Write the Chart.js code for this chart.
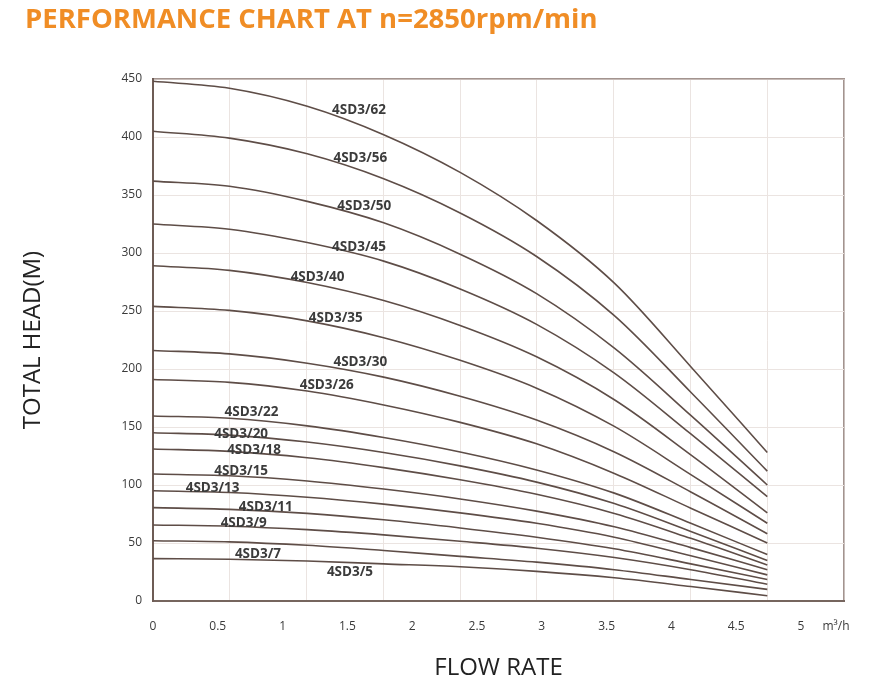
<!DOCTYPE html>
<html>
<head>
<meta charset="utf-8">
<script src="https://cdn.jsdelivr.net/npm/chart.js@4.4.1/dist/chart.umd.min.js"></script>
<style>
  html, body { margin: 0; padding: 0; background: #fff; }
</style>
</head>
<body>
<canvas id="perf_chart" width="875" height="693"></canvas>
<script>
// flow values (m3/h) at which the curves were read
const flowRate = [0, 0.59, 1.19, 1.78, 2.37, 2.96, 3.56, 4.15, 4.74];

// head (m) for each pump model
const head62 = [448, 442, 426.5, 402, 369.5, 328, 274, 202, 128];
const head56 = [405, 399, 385.5, 364, 334.5, 297, 246, 180, 112];
const head50 = [362, 357.5, 344.5, 326, 299, 265, 218, 160, 100];
const head45 = [325, 320.5, 309, 293, 269, 238.5, 196.5, 144, 90];
const head40 = [289, 285, 274.5, 259, 237.5, 210.5, 173.5, 126, 76];
const head35 = [254, 250.5, 241.5, 227, 207.5, 183.5, 150.5, 109, 67];
const head30 = [216, 213, 205, 193, 176.5, 156, 128.5, 94, 58];
const head26 = [191, 188.5, 181, 169, 154, 135.5, 110, 80, 50];
const head22 = [159.5, 157.5, 151, 141, 128.5, 113, 93, 67, 40];
const head20 = [145, 143, 137, 128, 116.5, 102.5, 84, 60, 35];
const head18 = [131, 129, 123.5, 115, 104.5, 92, 75.5, 54, 31];
const head15 = [109.5, 108, 103.5, 96.5, 88, 77.5, 64, 46, 27];
const head13 = [95, 93.5, 89.5, 83.5, 76, 67, 55, 39, 22.5];
const head11 = [80.5, 79, 75.5, 70, 63, 55, 45, 32, 18.5];
const head9 = [65.5, 64.5, 61.5, 57, 51.5, 45.5, 37.5, 27, 14.5];
const head7 = [52, 51, 48, 43.5, 38.5, 33.5, 27, 18.5, 10];
const head5 = [36.5, 36, 34.5, 32, 29.5, 25.5, 20, 12.5, 4.5];

const models = ['4SD3/62', '4SD3/56', '4SD3/50', '4SD3/45', '4SD3/40', '4SD3/35', '4SD3/30', '4SD3/26',
    '4SD3/22', '4SD3/20', '4SD3/18', '4SD3/15', '4SD3/13', '4SD3/11', '4SD3/9', '4SD3/7', '4SD3/5'];
const heads = [head62, head56, head50, head45, head40, head35, head30, head26,
    head22, head20, head18, head15, head13, head11, head9, head7, head5];

// where each model name sits (flow, head)
const labelFlow = [1.59, 1.60, 1.63, 1.59, 1.27, 1.41, 1.60, 1.34, 0.76, 0.68, 0.78, 0.68, 0.46, 0.87, 0.70, 0.81, 1.52];
const labelHead = [423, 382, 340, 305, 279, 244, 206, 186, 163, 144, 130, 112, 97, 81, 67, 40.5, 25];

// x axis tick labels
const xTickValues = [0, 0.5, 1, 1.5, 2, 2.5, 3, 3.5, 4, 4.5, 5, 5.27];
const xTickLabels = ['0', '0.5', '1', '1.5', '2', '2.5', '3', '3.5', '4', '4.5', '5', 'm³/h'];

const lineColor = '#5e4d47';
const gridColor = '#ebe4e1';
const frameColor = '#a3948f';

const datasets = heads.map((h, i) => ({
    label: models[i],
    data: flowRate.map((q, j) => ({ x: q, y: h[j] })),
    borderColor: lineColor,
    backgroundColor: lineColor,
    borderWidth: 1.6,
    pointRadius: 0,
    fill: false,
    cubicInterpolationMode: 'monotone',
    xAxisID: 'x',
    yAxisID: 'y'
}))

const curveLabels = {
    id: 'curveLabels',
    afterDatasetsDraw(chart) {
        const { ctx } = chart;
        const x = chart.scales.x;
        const y = chart.scales.y;
        ctx.save();
        ctx.font = 'bold 13.5px "Open Sans"';
        ctx.fillStyle = '#3b3b3b';
        ctx.textAlign = 'center';
        ctx.textBaseline = 'middle';
        models.forEach((m, i) => {
            ctx.fillText(m, x.getPixelForValue(labelFlow[i]), y.getPixelForValue(labelHead[i]));
        });
        ctx.restore();
    }
}

const config = {
    type: 'line',
    data: { datasets: datasets },
    options: {
        responsive: false,
        animation: false,
        layout: {
            padding: { left: 25, right: 31, top: 0, bottom: 0 }
        },
        scales: {
            x: {
                type: 'linear',
                position: 'bottom',
                min: 0,
                max: 5.332,
                afterBuildTicks: axis => {
                    axis.ticks = xTickValues.map(v => ({ value: v }));
                },
                afterFit: s => { s.height = 92; },
                ticks: {
                    autoSkip: false,
                    maxRotation: 0,
                    padding: 10,
                    color: '#3a3a3a',
                    font: { family: 'Open Sans', size: 12 },
                    callback: (value, index) => xTickLabels[index]
                },
                grid: { display: false },
                border: { color: '#76655e', width: 2 },
                title: {
                    display: true,
                    text: 'FLOW RATE',
                    color: '#222',
                    font: { family: 'Open Sans', size: 24 },
                    padding: { top: 0, bottom: 10 }
                }
            },
            xg: {
                type: 'linear',
                position: 'top',
                min: 0,
                max: 9,
                afterFit: s => { s.height = 0; },
                ticks: { display: false, stepSize: 1 },
                grid: {
                    drawTicks: false,
                    color: ctx => ctx.index === 9 ? frameColor : gridColor,
                    lineWidth: ctx => ctx.index === 9 ? 1.6 : 1
                },
                border: { color: frameColor, width: 1.6 }
            },
            y: {
                min: 0,
                max: 450,
                afterFit: s => { s.width = 128; },
                ticks: {
                    stepSize: 50,
                    padding: 11,
                    color: '#3a3a3a',
                    font: { family: 'Open Sans', size: 12 }
                },
                grid: { color: gridColor, drawTicks: false },
                border: { color: '#6e5c55', width: 2 },
                title: {
                    display: true,
                    text: 'TOTAL HEAD(M)',
                    color: '#222',
                    font: { family: 'Open Sans', size: 24, lineHeight: 0.7 },
                    padding: 0
                }
            }
        },
        plugins: {
            legend: { display: false },
            tooltip: { enabled: false },
            title: {
                display: true,
                text: 'PERFORMANCE CHART AT n=2850rpm/min',
                align: 'start',
                color: '#f08d25',
                font: { family: 'Open Sans', size: 27.5, weight: 'bold' },
                padding: { top: 4, bottom: 42 }
            }
        }
    },
    plugins: [curveLabels]
}

const perfChart = new Chart(
    document.getElementById('perf_chart'),
    config
)
</script>
</body>
</html>
